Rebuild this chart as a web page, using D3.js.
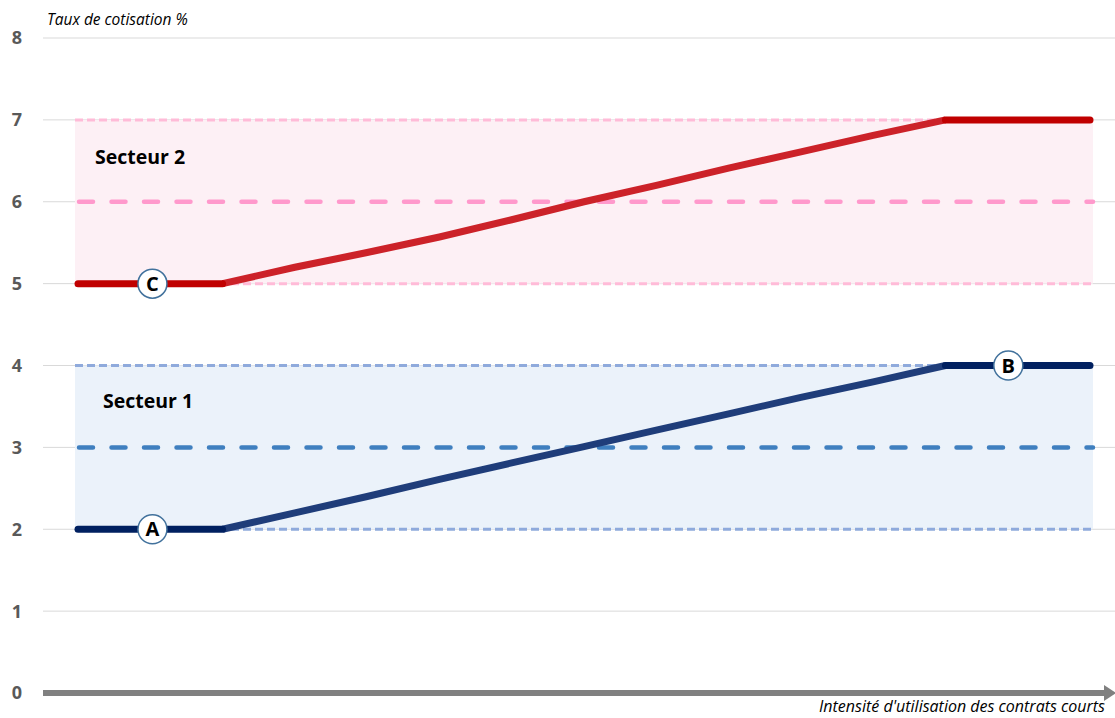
<!DOCTYPE html>
<html>
<head>
<meta charset="utf-8">
<script src="https://cdn.jsdelivr.net/npm/d3@7"></script>
<style>
  body { margin: 0; background: #fff; }
  svg { display: block; font-family: "Open Sans", "DejaVu Sans", sans-serif; }
</style>
</head>
<body>
<svg id="chart" width="1115" height="718"></svg>
<script>
// x positions: 15 steps of "intensité"
const steps = d3.range(0, 15);
const secteur1 = [2, 2, 2, 2.2, 2.4, 2.61, 2.81, 3.01, 3.21, 3.41, 3.61, 3.8, 4, 4, 4];
const secteur2 = [5, 5, 5, 5.2, 5.38, 5.57, 5.78, 6, 6.2, 6.41, 6.61, 6.81, 7, 7, 7];
const yTicks = [0, 1, 2, 3, 4, 5, 6, 7, 8];
const bands = [
  { name: "Secteur 1", lo: 2, mid: 3, hi: 4 },
  { name: "Secteur 2", lo: 5, mid: 6, hi: 7 }
];
const markers = [
  { label: "A", x: 1.03, y: 2 },
  { label: "C", x: 1.03, y: 5 },
  { label: "B", x: 12.87, y: 4 }
];

const svg = d3.select("#chart");
const x = d3.scaleLinear().domain([0, 14]).range([78, 1090]);
const y = d3.scaleLinear().domain([0, 8]).range([693, 38]);

const style = {
  "Secteur 1": { fill: "#ebf2fa", edge: "#8faadc", mid: "#3f7fbf", flat: "#002060", slope: "#1f3d7a", label: [103, 3.48] },
  "Secteur 2": { fill: "#fdf0f5", edge: "#ffbbd8", mid: "#ff99cc", flat: "#c00000", slope: "#cc2229", label: [95, 6.46] }
};

// grid lines
svg.append("g").selectAll("line")
  .data(yTicks.filter(d => d > 0))
  .enter().append("line")
  .attr("x1", 43).attr("x2", 1115)
  .attr("y1", d => y(d)).attr("y2", d => y(d))
  .attr("stroke", "#d9d9d9").attr("stroke-width", 1);

// bands
const band = svg.append("g").selectAll("g")
  .data(bands)
  .enter().append("g");

band.append("rect")
  .attr("x", x(0) - 3)
  .attr("width", x(14) - x(0) + 6)
  .attr("y", d => y(d.hi))
  .attr("height", d => y(d.lo) - y(d.hi))
  .attr("fill", d => style[d.name].fill);

band.each(function (d) {
  const g = d3.select(this);
  [d.lo, d.hi].forEach(v => {
    g.append("line")
      .attr("x1", x(0) - 3).attr("x2", x(14) + 3)
      .attr("y1", y(v)).attr("y2", y(v))
      .attr("stroke", style[d.name].edge)
      .attr("stroke-width", 3)
      .attr("stroke-dasharray", "8,4");
  });
  g.append("line")
    .attr("x1", x(0) + 1).attr("x2", x(14) + 3)
    .attr("y1", y(d.mid)).attr("y2", y(d.mid))
    .attr("stroke", style[d.name].mid)
    .attr("stroke-width", 4.5)
    .attr("stroke-linecap", "round")
    .attr("stroke-dasharray", "14,18.5");
  g.append("text")
    .attr("x", style[d.name].label[0])
    .attr("y", y(style[d.name].label[1]))
    .attr("font-size", 19.5)
    .attr("font-weight", "bold")
    .attr("fill", "#000")
    .text(d.name);
});

// x axis with arrow
svg.append("line")
  .attr("x1", 43).attr("x2", 1106)
  .attr("y1", y(0)).attr("y2", y(0))
  .attr("stroke", "#808080").attr("stroke-width", 6);
svg.append("path")
  .attr("d", `M1104,${y(0) - 8}L1116,${y(0)}L1104,${y(0) + 8}Z`)
  .attr("fill", "#808080");

// y tick labels
svg.append("g").selectAll("text")
  .data(yTicks)
  .enter().append("text")
  .attr("x", 17)
  .attr("y", d => y(d))
  .attr("dy", "0.36em")
  .attr("text-anchor", "middle")
  .attr("font-size", 18)
  .attr("font-weight", "bold")
  .attr("fill", "#595959")
  .text(d => d);

svg.append("text")
  .attr("x", 47).attr("y", 25)
  .attr("font-size", 15.5)
  .attr("font-style", "italic")
  .attr("fill", "#000")
  .text("Taux de cotisation %");

svg.append("text")
  .attr("x", 1105).attr("y", 712)
  .attr("text-anchor", "end")
  .attr("font-size", 16)
  .attr("font-style", "italic")
  .attr("fill", "#000")
  .text("Intensité d'utilisation des contrats courts");

// series lines
const line = d3.line().x(d => x(d[0])).y(d => y(d[1]));
[["Secteur 1", secteur1], ["Secteur 2", secteur2]].forEach(([name, vals]) => {
  const pts = steps.map((s, i) => [s, vals[i]]);
  svg.append("path")
    .attr("d", line(pts.slice(2, 13)))
    .attr("fill", "none")
    .attr("stroke", style[name].slope)
    .attr("stroke-width", 7)
    .attr("stroke-linejoin", "round");
  [pts.slice(0, 3), pts.slice(12)].forEach(seg => {
    svg.append("path")
      .attr("d", line(seg))
      .attr("fill", "none")
      .attr("stroke", style[name].flat)
      .attr("stroke-width", 7)
      .attr("stroke-linecap", "round");
  });
});

// point markers
const mk = svg.append("g").selectAll("g")
  .data(markers)
  .enter().append("g")
  .attr("transform", d => `translate(${x(d.x)},${y(d.y)})`);
mk.append("circle")
  .attr("r", 14.5)
  .attr("fill", "#fff")
  .attr("stroke", "#41719c")
  .attr("stroke-width", 1.5);
mk.append("text")
  .attr("text-anchor", "middle")
  .attr("dy", "0.36em")
  .attr("font-size", 20)
  .attr("font-weight", "bold")
  .attr("fill", "#000")
  .text(d => d.label);
</script>
</body>
</html>
